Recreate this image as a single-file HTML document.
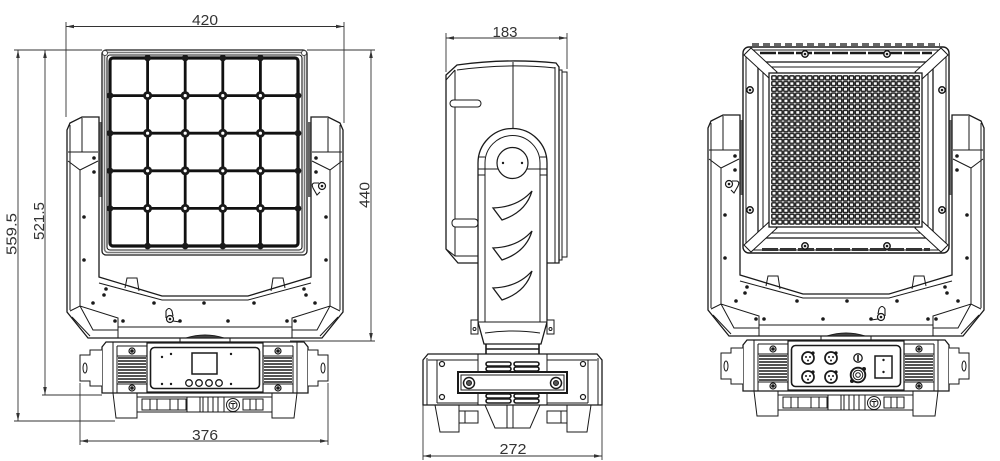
<!DOCTYPE html>
<html><head><meta charset="utf-8">
<style>
html,body{margin:0;padding:0;background:#fff;width:1000px;height:461px;overflow:hidden}
svg{display:block}
.t{font-family:"Liberation Sans",sans-serif;fill:#333;font-size:14.5px}
</style></head><body>
<svg width="1000" height="461" viewBox="0 0 1000 461" xmlns="http://www.w3.org/2000/svg">
<defs>
<pattern id="led" x="771" y="75" width="5.96" height="5.77" patternUnits="userSpaceOnUse">
<rect x="0.8" y="0.8" width="4.4" height="4.0" rx="0.8" fill="none" stroke="#1e1e1e" stroke-width="1.45"/>
</pattern>

<g id="yoke" fill="none" stroke="#1a1a1a" stroke-width="1">
 <path fill="#fff" stroke-width="1.3" d="M67,130 L70,123 L82,117 L99,117 L99,277 L162,296 L248,296 L311,277 L311,117 L328,117 L340,123 L343,130 L343,312 L322,338 L88,338 L67,312 Z"/>
 <path d="M99,283 L162,300 L248,300 L311,283"/>
 <path d="M125,288 L127,278 L137,278 L139,291"/>
 <path d="M285,288 L283,278 L273,278 L271,291"/>
 <path d="M70,125 L70,310 M82,118 L82,152 M68,152 L98,152 M68,161 L80,170 L98,161 M80,170 L80,306"/>
 <path d="M340,125 L340,310 M328,118 L328,152 M312,152 L342,152 M342,161 L330,170 L312,161 M330,170 L330,306"/>
 <path d="M70,311 L80,306 L118,318 L118,338 M80,306 L93,330 L118,330 M72,317 L90,336"/>
 <path d="M340,311 L330,306 L292,318 L292,338 M330,306 L317,330 L292,330 M338,317 L320,336"/>
 <path d="M118,327 L292,327"/>
 <rect x="99.5" y="122" width="2.5" height="75" fill="#666" stroke="none"/>
 <rect x="308" y="122" width="2.5" height="75" fill="#666" stroke="none"/>
 <g fill="#1a1a1a" stroke="none">
  <circle cx="94" cy="158" r="1.8"/><circle cx="94" cy="172" r="1.8"/>
  <circle cx="84" cy="217" r="1.8"/><circle cx="84" cy="260" r="1.8"/>
  <circle cx="316" cy="158" r="1.8"/><circle cx="316" cy="172" r="1.8"/>
  <circle cx="326" cy="217" r="1.8"/><circle cx="326" cy="260" r="1.8"/>
  <circle cx="106" cy="289" r="1.8"/><circle cx="104" cy="295" r="1.8"/>
  <circle cx="304" cy="289" r="1.8"/><circle cx="306" cy="295" r="1.8"/>
  <circle cx="93" cy="303" r="1.8"/><circle cx="154" cy="303" r="1.8"/>
  <circle cx="204" cy="303" r="1.8"/><circle cx="254" cy="303" r="1.8"/>
  <circle cx="315" cy="303" r="1.8"/>
  <circle cx="115" cy="321" r="1.8"/><circle cx="123" cy="321" r="1.8"/>
  <circle cx="228" cy="321" r="1.8"/><circle cx="180" cy="321" r="1.8"/>
  <circle cx="287" cy="321" r="1.8"/><circle cx="295" cy="321" r="1.8"/>
 </g>
 <path d="M166,318 L166,311 Q169,306 172,311 L173,316" stroke-width="1.1"/>
 <circle cx="170" cy="319" r="3.5" fill="#fff" stroke-width="1.2"/>
 <circle cx="170" cy="319" r="1.3" fill="#1a1a1a" stroke="none"/>
 <path d="M173,321 L180,322"/>
 <path d="M319,183 L314,183 Q311,184 313,188 L317,195 L320,192" stroke-width="1.1"/>
 <circle cx="322" cy="186" r="3.5" fill="#fff" stroke-width="1.2"/>
 <circle cx="322" cy="186" r="1.3" fill="#1a1a1a" stroke="none"/>
</g>

<g id="base" fill="none" stroke="#1a1a1a" stroke-width="1">
 <path d="M180,342 L180,338 L230,338 L230,342"/>
 <path d="M186,338 Q205,332 224,338 Z" fill="#444"/>
 <path fill="#fff" stroke-width="1.3" d="M102,347 L106,342 L304,342 L308,347 L308,393 L102,393 Z"/>
 <path d="M102,350 L90,350 L90,355 L80,355 L80,381 L90,381 L90,386 L102,386" fill="#fff"/>
 <ellipse cx="85" cy="368" rx="2" ry="5"/>
 <path d="M308,350 L318,350 L318,355 L328,355 L328,381 L318,381 L318,386 L308,386" fill="#fff"/>
 <ellipse cx="323" cy="368" rx="2" ry="5"/>
 <path d="M113,342 V393 M117,346 V393 M293,346 V393 M297,342 V393 M117,346 H293"/>
 <path d="M117,356 H147 M117,384 H147 M263,356 H293 M263,384 H293"/>
 <path stroke-width="1.4" d="M118,358H146M118,361H146M118,364H146M118,367H146M118,370H146M118,373H146M118,376H146M118,379H146M118,382H146 M264,358H292M264,361H292M264,364H292M264,367H292M264,370H292M264,373H292M264,376H292M264,379H292M264,382H292"/>
 <circle cx="132" cy="351" r="3" stroke-width="1.2"/><circle cx="132" cy="351" r="1.3" fill="#1a1a1a"/>
 <circle cx="132" cy="388" r="3" stroke-width="1.2"/><circle cx="132" cy="388" r="1.3" fill="#1a1a1a"/>
 <circle cx="278" cy="351" r="3" stroke-width="1.2"/><circle cx="278" cy="351" r="1.3" fill="#1a1a1a"/>
 <circle cx="278" cy="388" r="3" stroke-width="1.2"/><circle cx="278" cy="388" r="1.3" fill="#1a1a1a"/>
 <rect x="147" y="343" width="116" height="49" fill="#fff" stroke-width="1.2"/>
 <rect x="150.5" y="347.5" width="109" height="41" rx="4" stroke-width="1.6"/>
 <path d="M113,393 L116,418 L137,418 L137,393"/>
 <path d="M297,393 L294,418 L272,418 L272,393"/>
 <path d="M137,412 H272 M137,397 H272"/>
 <rect x="142" y="399" width="44" height="11"/>
 <path d="M150,399V410 M157,399V410 M170,399V410 M178,399V410"/>
 <rect x="187" y="397" width="13" height="15"/>
 <path d="M203,397V412 M208,397V412 M213,397V412 M218,397V412 M224,397V412"/>
 <circle cx="233" cy="405" r="6.5" fill="#fff"/>
 <circle cx="233" cy="405" r="4"/>
 <path d="M230.5,403.5H235.5 M233,403.5V408"/>
 <rect x="243" y="399" width="20" height="11"/>
 <path d="M250,399V410 M256,399V410"/>
</g>
</defs>

<!-- ============ LEFT VIEW ============ -->
<use href="#yoke"/>
<g fill="none" stroke="#1a1a1a">
 <rect x="102" y="50" width="205" height="205" rx="4" fill="#fff" stroke-width="1.3"/>
 <rect x="104.5" y="52.5" width="200" height="200" rx="3.5" stroke="#777" stroke-width="1.6"/>
 <rect x="107" y="55" width="195" height="195" rx="3" stroke-width="1.1"/>
 <rect x="110" y="58" width="188" height="188" rx="3" stroke="#111" stroke-width="3.2"/>
 <path stroke="#111" stroke-width="2.8" d="M147.6,58V246 M185.2,58V246 M222.8,58V246 M260.4,58V246 M110,95.6H298 M110,133.2H298 M110,170.8H298 M110,208.4H298"/>
 <circle cx="105" cy="53" r="2.5" fill="#fff" stroke="#444"/>
 <circle cx="304" cy="53" r="2.5" fill="#fff" stroke="#444"/>
</g>
<g fill="#1a1a1a">
 <circle cx="147.6" cy="58" r="3.3"/><circle cx="185.2" cy="58" r="3.3"/><circle cx="222.8" cy="58" r="3.3"/><circle cx="260.4" cy="58" r="3.3"/>
 <circle cx="147.6" cy="246" r="3.3"/><circle cx="185.2" cy="246" r="3.3"/><circle cx="222.8" cy="246" r="3.3"/><circle cx="260.4" cy="246" r="3.3"/>
 <circle cx="110" cy="95.6" r="3.3"/><circle cx="110" cy="133.2" r="3.3"/><circle cx="110" cy="170.8" r="3.3"/><circle cx="110" cy="208.4" r="3.3"/>
 <circle cx="298" cy="95.6" r="3.3"/><circle cx="298" cy="133.2" r="3.3"/><circle cx="298" cy="170.8" r="3.3"/><circle cx="298" cy="208.4" r="3.3"/>
 <circle cx="147.6" cy="95.6" r="4.5"/><circle cx="185.2" cy="95.6" r="4.5"/><circle cx="222.8" cy="95.6" r="4.5"/><circle cx="260.4" cy="95.6" r="4.5"/>
 <circle cx="147.6" cy="133.2" r="4.5"/><circle cx="185.2" cy="133.2" r="4.5"/><circle cx="222.8" cy="133.2" r="4.5"/><circle cx="260.4" cy="133.2" r="4.5"/>
 <circle cx="147.6" cy="170.8" r="4.5"/><circle cx="185.2" cy="170.8" r="4.5"/><circle cx="222.8" cy="170.8" r="4.5"/><circle cx="260.4" cy="170.8" r="4.5"/>
 <circle cx="147.6" cy="208.4" r="4.5"/><circle cx="185.2" cy="208.4" r="4.5"/><circle cx="222.8" cy="208.4" r="4.5"/><circle cx="260.4" cy="208.4" r="4.5"/>
</g>
<g fill="#fff" stroke="#1a1a1a" stroke-width="0.8">
 <circle cx="147.6" cy="95.6" r="2"/><circle cx="185.2" cy="95.6" r="2"/><circle cx="222.8" cy="95.6" r="2"/><circle cx="260.4" cy="95.6" r="2"/>
 <circle cx="147.6" cy="133.2" r="2"/><circle cx="185.2" cy="133.2" r="2"/><circle cx="222.8" cy="133.2" r="2"/><circle cx="260.4" cy="133.2" r="2"/>
 <circle cx="147.6" cy="170.8" r="2"/><circle cx="185.2" cy="170.8" r="2"/><circle cx="222.8" cy="170.8" r="2"/><circle cx="260.4" cy="170.8" r="2"/>
 <circle cx="147.6" cy="208.4" r="2"/><circle cx="185.2" cy="208.4" r="2"/><circle cx="222.8" cy="208.4" r="2"/><circle cx="260.4" cy="208.4" r="2"/>
</g>
<use href="#base"/>
<g fill="none" stroke="#1a1a1a">
 <rect x="192" y="353" width="25" height="21" stroke-width="1.5"/>
 <circle cx="189" cy="383" r="3.3" stroke-width="1.3"/>
 <circle cx="199" cy="383" r="3.3" stroke-width="1.3"/>
 <circle cx="209" cy="383" r="3.3" stroke-width="1.3"/>
 <circle cx="219" cy="383" r="3.3" stroke-width="1.3"/>
 <g fill="#1a1a1a" stroke="none">
  <circle cx="162" cy="357" r="1.2"/><circle cx="171" cy="354" r="1.2"/><circle cx="231" cy="354" r="1.2"/>
  <circle cx="162" cy="384" r="1.2"/><circle cx="171" cy="384" r="1.2"/><circle cx="231" cy="384" r="1.2"/>
 </g>
</g>

<g stroke="#333" stroke-width="0.9" fill="none">
 <path d="M66,26.5H344 M66,22V117 M344,22V123"/>
 <path d="M14,50H102 M307,50H375"/>
 <path d="M18,50V421 M45,50V395 M371,50V341"/>
 <path d="M42,395H102 M14,421H115 M290,341H375"/>
 <path d="M80,441H328 M80,383V445 M328,383V445"/>
</g>
<g fill="#333">
 <polygon points="66,26.5 74,24.7 74,28.3"/><polygon points="344,26.5 336,24.7 336,28.3"/>
 <polygon points="18,50 16.2,58 19.8,58"/><polygon points="18,421 16.2,413 19.8,413"/>
 <polygon points="45,50 43.2,58 46.8,58"/><polygon points="45,395 43.2,387 46.8,387"/>
 <polygon points="371,50 369.2,58 372.8,58"/><polygon points="371,341 369.2,333 372.8,333"/>
 <polygon points="80,441 88,439.2 88,442.8"/><polygon points="328,441 320,439.2 320,442.8"/>
</g>
<text class="t" x="205" y="25" text-anchor="middle" textLength="26" lengthAdjust="spacingAndGlyphs">420</text>
<text class="t" x="205" y="440" text-anchor="middle" textLength="26" lengthAdjust="spacingAndGlyphs">376</text>
<text class="t" transform="translate(16.5,234) rotate(-90)" text-anchor="middle" textLength="42" lengthAdjust="spacingAndGlyphs" style="font-size:15px">559.5</text>
<text class="t" transform="translate(44,221) rotate(-90)" text-anchor="middle" textLength="38" lengthAdjust="spacingAndGlyphs" style="font-size:15px">521.5</text>
<text class="t" transform="translate(369.5,195) rotate(-90)" text-anchor="middle" textLength="26" lengthAdjust="spacingAndGlyphs">440</text>

<!-- ============ MIDDLE VIEW ============ -->
<g fill="none" stroke="#1a1a1a" stroke-width="1">
 <path fill="#fff" stroke-width="1.3" d="M446,75 L457,65 Q507,58 556,63 L559,67 L559,263 L458,263 L446,249 Z"/>
 <path d="M455,70 L455,256 M457,70 Q507,63 555,68 M446,80 L455,70 M555,67 L555,263 M446,249 L455,256 L478,256"/>
 <rect x="559" y="70" width="3" height="190"/>
 <rect x="562" y="72" width="5" height="185" fill="#fff"/>
 <path d="M513,62 V128"/>
 <rect x="450" y="100" width="31" height="7" rx="3.5" fill="#fff"/>
 <rect x="452" y="219" width="26" height="8" rx="3.5" fill="#fff"/>
 <path fill="#fff" stroke-width="1.3" d="M478,163 A34.5,34.5 0 0 1 547,163 L547,322 L541,344 L484,344 L478,322 Z"/>
 <path d="M485,170 V322 M540,170 V322 M485,163 A27.5,27.5 0 0 1 540,163 M478,169 H547 M478,157H485 M540,157H547 M478,175H485 M540,175H547 M485,163V170 M540,163V170"/>
 <circle cx="512.5" cy="163" r="15.5" fill="#fff" stroke-width="1.2"/>
 <circle cx="503" cy="163" r="1.2" fill="#1a1a1a" stroke="none"/>
 <circle cx="522" cy="163" r="1.2" fill="#1a1a1a" stroke="none"/>
 <path stroke-width="1.3" d="M532,191 Q518,207 493,208 L502,220 Q526,212 532,191 Z"/>
 <path stroke-width="1.3" d="M532,231 Q518,247 493,248 L502,260 Q526,252 532,231 Z"/>
 <path stroke-width="1.3" d="M532,271 Q518,287 493,288 L502,300 Q526,292 532,271 Z"/>
 <path d="M478,322 H547 M485,333 Q512.5,329 540,333"/>
 <path d="M486,344 V354 M539,344 V354 M486,349 H539" stroke-width="1.6"/>
 <rect x="471" y="320" width="7" height="14" fill="#fff"/>
 <rect x="547" y="320" width="7" height="14" fill="#fff"/>
 <circle cx="474.5" cy="329" r="1.5"/><circle cx="550.5" cy="329" r="1.5"/>
 <path fill="#fff" stroke-width="1.3" d="M423,360 L428,354 L597,354 L602,360 L602,405 L423,405 Z"/>
 <path d="M427,358 V405 M437,360 V403 M598,358 V405 M588,360 V403 M428,360 H478 M547,360 H597 M437,403 H478 M547,403 H588"/>
 <rect x="478" y="354" width="69" height="51"/>
 <g stroke-width="1.6">
  <rect x="486" y="362" width="25" height="4" rx="2"/><rect x="514" y="362" width="25" height="4" rx="2"/>
  <rect x="486" y="367" width="25" height="4" rx="2"/><rect x="514" y="367" width="25" height="4" rx="2"/>
  <rect x="486" y="394" width="25" height="4" rx="2"/><rect x="514" y="394" width="25" height="4" rx="2"/>
  <rect x="486" y="399" width="25" height="4" rx="2"/><rect x="514" y="399" width="25" height="4" rx="2"/>
 </g>
 <rect x="458" y="372" width="109" height="21" fill="#fff" stroke-width="2"/>
 <rect x="461" y="375" width="103" height="15"/>
 <circle cx="469" cy="383" r="5.5" stroke-width="1.5"/><circle cx="469" cy="383" r="2.5" fill="#555"/>
 <circle cx="556" cy="383" r="5.5" stroke-width="1.5"/><circle cx="556" cy="383" r="2.5" fill="#555"/>
 <circle cx="442" cy="364" r="2.5" stroke-width="1.2"/><circle cx="442" cy="397" r="2.5" stroke-width="1.2"/>
 <circle cx="583" cy="364" r="2.5" stroke-width="1.2"/><circle cx="583" cy="397" r="2.5" stroke-width="1.2"/>
 <path d="M435,405 L440,432 L459,432 L459,405"/>
 <path d="M591,405 L587,432 L567,432 L567,405"/>
 <rect x="459" y="411" width="19" height="12"/><path d="M465,411V423"/>
 <rect x="547" y="411" width="20" height="12"/><path d="M561,411V423"/>
 <path d="M485,405 L495,428 L530,428 L540,405 M507,405 V428 M513,405 V428"/>
</g>
<g stroke="#333" stroke-width="0.9" fill="none">
 <path d="M446,38H567 M446,33V72 M567,33V69"/>
 <path d="M423,456H602 M423,405V460 M602,405V460"/>
</g>
<g fill="#333">
 <polygon points="446,38 454,36.2 454,39.8"/><polygon points="567,38 559,36.2 559,39.8"/>
 <polygon points="423,456 431,454.2 431,457.8"/><polygon points="602,456 594,454.2 594,457.8"/>
</g>
<text class="t" x="505" y="37" text-anchor="middle" textLength="25" lengthAdjust="spacingAndGlyphs">183</text>
<text class="t" x="513" y="454" text-anchor="middle" textLength="27" lengthAdjust="spacingAndGlyphs">272</text>

<!-- ============ RIGHT VIEW ============ -->
<use href="#yoke" transform="translate(1051,-2) scale(-1,1)"/>
<g fill="none" stroke="#1a1a1a" stroke-width="1">
 <path d="M752,44.5 H940" stroke="#666" stroke-width="3" stroke-dasharray="7 4"/>
 <rect x="743" y="47" width="206" height="206" rx="6" fill="#fff" stroke-width="1.4"/>
 <rect x="746" y="50" width="200" height="200" rx="5"/>
 <path d="M760,53 H932" stroke-width="2.5" stroke-dasharray="16 2"/>
 <path d="M762,249.5 H930" stroke-width="3" stroke="#333" stroke-dasharray="16 2"/>
 <rect x="758" y="62" width="175" height="176" stroke-width="1.3"/>
 <rect x="763" y="67" width="165" height="166"/>
 <polygon points="744,55 751,48 777,72 770,79" fill="#fff"/>
 <polygon points="948,55 941,48 915,72 922,79" fill="#fff"/>
 <polygon points="744,245 751,252 777,228 770,221" fill="#fff"/>
 <polygon points="948,245 941,252 915,228 922,221" fill="#fff"/>
 <rect x="769" y="73" width="153" height="154" stroke-width="1.3" fill="#fff"/>
 <rect x="771" y="75" width="149" height="150" fill="url(#led)" stroke="none"/>
 <g stroke-width="1.5" fill="#fff">
  <circle cx="805" cy="54" r="3.2"/><circle cx="887" cy="54" r="3.2"/>
  <circle cx="805" cy="246" r="3.2"/><circle cx="887" cy="246" r="3.2"/>
  <circle cx="750" cy="90" r="3.2"/><circle cx="750" cy="210" r="3.2"/>
  <circle cx="942" cy="90" r="3.2"/><circle cx="942" cy="210" r="3.2"/>
 </g>
 <g fill="#1a1a1a" stroke="none">
  <circle cx="805" cy="54" r="1.3"/><circle cx="887" cy="54" r="1.3"/>
  <circle cx="805" cy="246" r="1.3"/><circle cx="887" cy="246" r="1.3"/>
  <circle cx="750" cy="90" r="1.3"/><circle cx="750" cy="210" r="1.3"/>
  <circle cx="942" cy="90" r="1.3"/><circle cx="942" cy="210" r="1.3"/>
 </g>
</g>
<use href="#base" transform="translate(641,-2)"/>
<g fill="none" stroke="#1a1a1a">
 <g stroke-width="1.7">
  <circle cx="808" cy="358" r="6"/><circle cx="831" cy="358" r="6"/>
  <circle cx="808" cy="377" r="6"/><circle cx="831" cy="377" r="6"/>
 </g>
 <g fill="#1a1a1a" stroke="none">
  <circle cx="813" cy="353" r="1.6"/><circle cx="836" cy="353" r="1.6"/>
  <circle cx="813" cy="372" r="1.6"/><circle cx="836" cy="372" r="1.6"/>
  <circle cx="806" cy="357" r="1"/><circle cx="810" cy="357" r="1"/><circle cx="808" cy="360.5" r="1"/>
  <circle cx="829" cy="357" r="1"/><circle cx="833" cy="357" r="1"/><circle cx="831" cy="360.5" r="1"/>
  <circle cx="806" cy="376" r="1"/><circle cx="810" cy="376" r="1"/><circle cx="808" cy="379.5" r="1"/>
  <circle cx="829" cy="376" r="1"/><circle cx="833" cy="376" r="1"/><circle cx="831" cy="379.5" r="1"/>
 </g>
 <circle cx="858" cy="358" r="4.2" stroke-width="1.3"/>
 <path d="M858,355 V361" stroke-width="1.6"/>
 <circle cx="858" cy="375" r="7.3" stroke-width="1.9"/>
 <circle cx="858" cy="375" r="4.8"/>
 <circle cx="858" cy="375" r="2.3"/>
 <circle cx="864" cy="369" r="1.5" fill="#1a1a1a"/>
 <circle cx="852" cy="381" r="1.5" fill="#1a1a1a"/>
 <rect x="875" y="356" width="17" height="22" stroke-width="1.5"/>
 <circle cx="883.5" cy="360" r="1.2" fill="#1a1a1a" stroke="none"/>
 <circle cx="883.5" cy="372" r="1.2" fill="#1a1a1a" stroke="none"/>
</g>
</svg>
</body></html>
